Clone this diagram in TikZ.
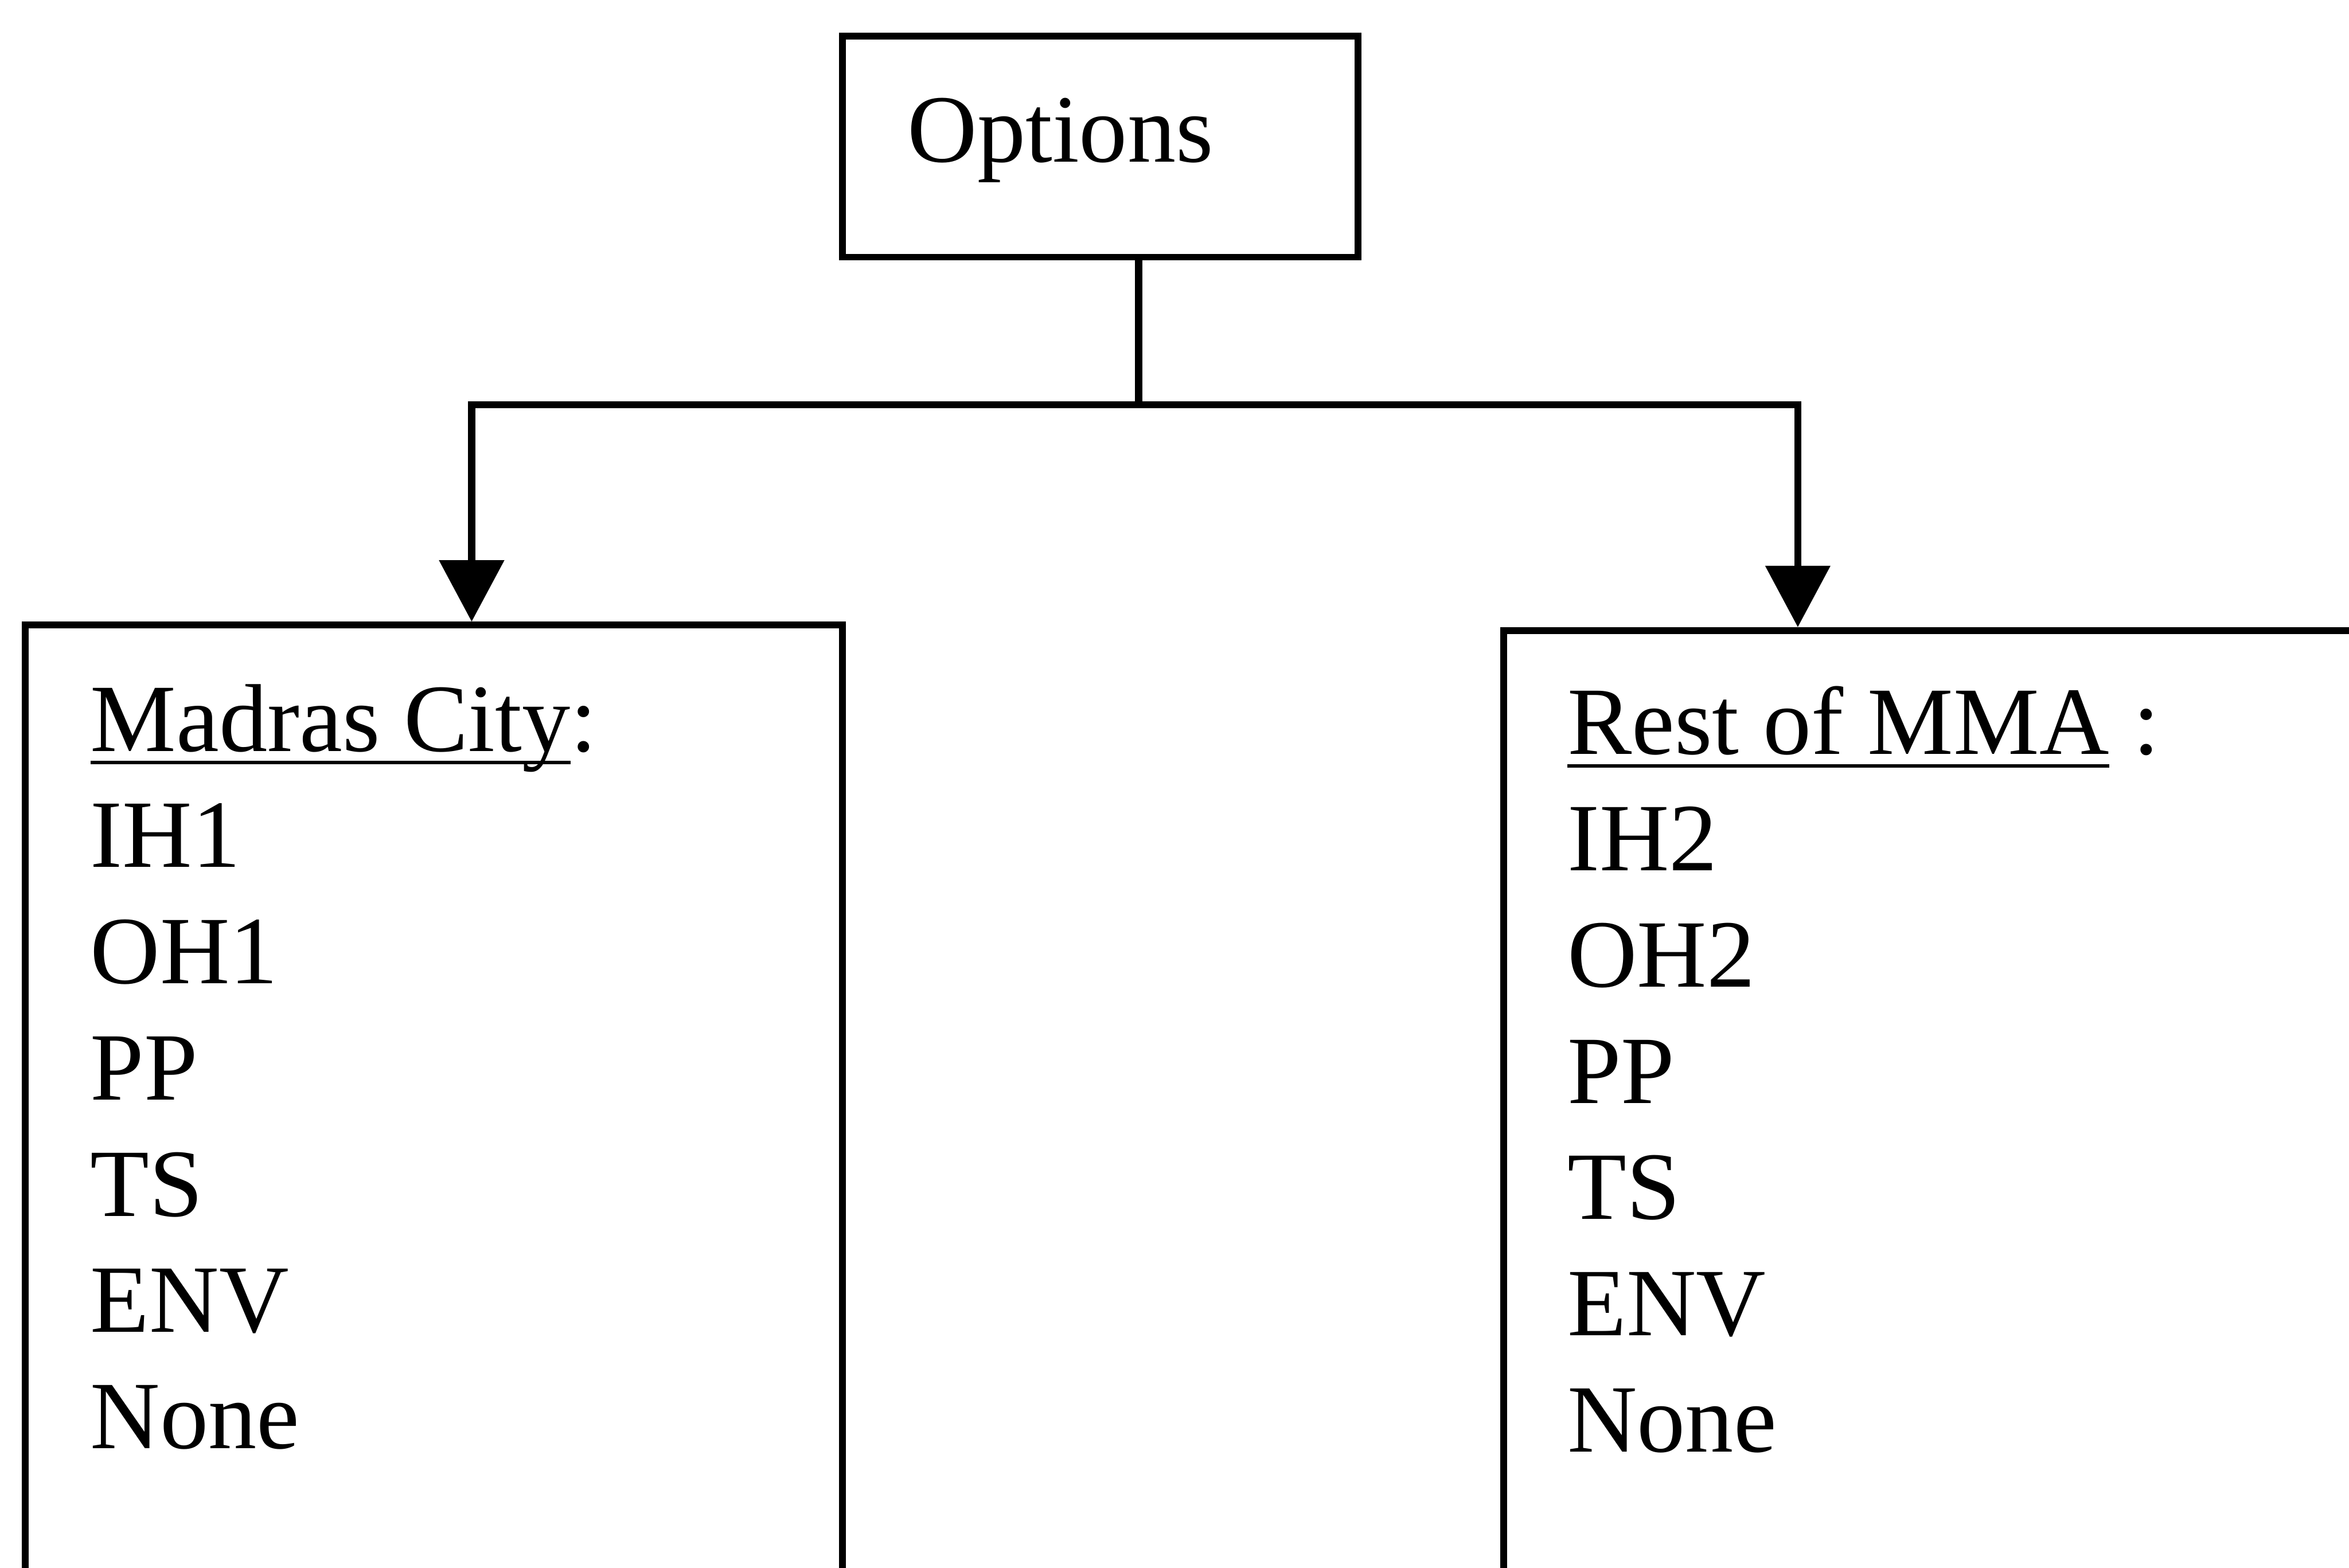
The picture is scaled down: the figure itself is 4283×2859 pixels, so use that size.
\documentclass[tikz,border=0pt]{standalone}
\usepackage{fontspec}
\setmainfont{Liberation Serif}
\usetikzlibrary{arrows.meta}
% underline set close under the baseline, cutting through descenders
\newcommand\wordul[1]{\setbox0\hbox{#1}\rlap{\rule[-2.4pt]{\wd0}{0.6pt}}\box0\relax}
\begin{document}
\begin{tikzpicture}[x=0.1pt,y=-0.1pt,
  frame/.style={draw, line width=1.25pt, rectangle, inner sep=0pt},
  entry/.style={anchor=base west, inner sep=0pt, font=\fontsize{17.6pt}{21.2pt}\selectfont},
  link/.style={line width=1.3pt},
  arr/.style={link, -{Triangle[length=11.2pt,width=11.6pt]}}]
\useasboundingbox (0,0) rectangle (4283,2859);

% boxes
\node[frame, minimum width=94pt, minimum height=40.3pt] (opt) at (2006,267.5) {};
\node[frame, minimum width=149pt, minimum height=196pt] (cityL) at (791,2120) {};
\node[frame, minimum width=175.8pt, minimum height=195pt] (cityR) at (3621,2125) {};

% texts
\node[entry] (optT) at (1653,295) {Options};

\node[entry] (l0) at (163,1370) {\wordul{Madras City}:};
\node[entry] (l1) at (163,1582) {IH1};
\node[entry] (l2) at (163,1794) {OH1};
\node[entry] (l3) at (163,2006) {PP};
\node[entry] (l4) at (163,2218) {TS};
\node[entry] (l5) at (163,2430) {ENV};
\node[entry] (l6) at (163,2642) {None};

\node[entry] (r0) at (2856,1376) {\wordul{Rest of MMA} :};
\node[entry] (r1) at (2856,1588) {IH2};
\node[entry] (r2) at (2856,1800) {OH2};
\node[entry] (r3) at (2856,2012) {PP};
\node[entry] (r4) at (2856,2224) {TS};
\node[entry] (r5) at (2856,2436) {ENV};
\node[entry] (r6) at (2856,2648) {None};

% connectors
\coordinate (split) at (2076,738);
\coordinate (toL) at (860,738);
\coordinate (toR) at (3278,738);
\draw[link] (opt.south -| split) -- (split);
\draw[link, line cap=rect] (toL) -- (toR);
\draw[arr] (toL) -- (toL |- cityL.north);
\draw[arr] (toR) -- (toR |- cityR.north);
\end{tikzpicture}
\end{document}
